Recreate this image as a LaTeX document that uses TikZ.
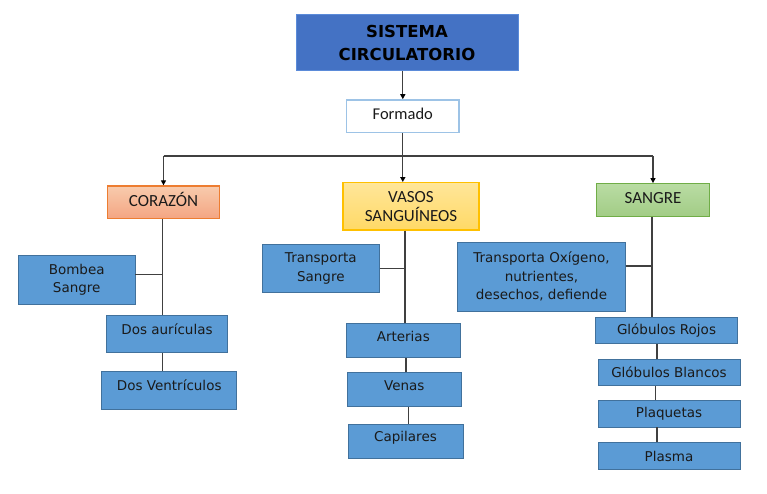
\documentclass[tikz,border=0pt]{standalone}
\usepackage{fontspec}
\setmainfont{DejaVu Sans}
\newfontfamily\calfont{Carlito}
\usetikzlibrary{arrows.meta}
\definecolor{leafblue}{HTML}{5B9BD5}
\definecolor{leafborder}{HTML}{41719C}
\definecolor{titleblue}{HTML}{4472C4}
\definecolor{titleborder}{HTML}{5B8BD9}
\definecolor{formborder}{HTML}{9DC3E6}
\definecolor{textdark}{HTML}{1A1A1A}
\definecolor{linegray}{HTML}{404040}
\definecolor{orbord}{HTML}{ED7D31}
\definecolor{ortop}{HTML}{F8CBAD}
\definecolor{orbot}{HTML}{F4A582}
\definecolor{yebord}{HTML}{FFC000}
\definecolor{yetop}{HTML}{FFE699}
\definecolor{yebot}{HTML}{FFD966}
\definecolor{grbord}{HTML}{70AD47}
\definecolor{grtop}{HTML}{B9DCA3}
\definecolor{grbot}{HTML}{A2CC86}
\newcommand{\up}[2]{\raisebox{#1}[\height][\depth]{#2}}
\begin{document}
\begin{tikzpicture}[x=1pt,y=-1pt,
  leaf/.style={draw=leafborder, fill=leafblue, line width=0.8pt, text=textdark,
    font=\fontsize{13.5}{18.5}\selectfont, align=center, inner sep=0pt},
  cat/.style={line width=1.2pt, text=textdark,
    font=\calfont\fontsize{17}{18.5}\selectfont, align=center, inner sep=0pt},
  titlebox/.style={draw=titleborder, fill=titleblue, line width=1pt, text=black,
    font=\bfseries\fontsize{16.5}{23.3}\selectfont, align=center, inner sep=0pt},
  formbox/.style={draw=formborder, fill=white, line width=1.5pt, text=textdark,
    font=\calfont\fontsize{16.5}{20}\selectfont, inner sep=0pt},
  conn/.style={draw=linegray, line width=1.3pt},
  arr/.style={conn, -{Triangle[length=5pt,width=5pt,color=black]}}
]
\useasboundingbox[fill=white] (0,0) rectangle (767,494);

% top
\node[titlebox, minimum width=222pt, minimum height=56pt] (title) at (407,43) {SISTEMA\\CIRCULATORIO};
\node[formbox, minimum width=112.5pt, minimum height=32.7pt] (formado) at (402.8,116.3) {\up{2pt}{Formado}};

% categories
\node[cat, draw=orbord, top color=ortop, bottom color=orbot, minimum width=112pt, minimum height=32.7pt] (corazon) at (163.5,202.3) {\up{3pt}{CORAZÓN}};
\node[cat, draw=yebord, top color=yetop, bottom color=yebot, minimum width=136pt, minimum height=47.3pt] (vasos) at (411,206.3) {VASOS\\SANGUÍNEOS};
\node[cat, draw=grbord, top color=grtop, bottom color=grbot, minimum width=112.7pt, minimum height=32.6pt] (sangre) at (653,200) {\up{2pt}{SANGRE}};

% left branch
\node[leaf, minimum width=116.7pt, minimum height=48.6pt] (bombea) at (76.7,280) {Bombea\\Sangre};
\node[leaf, minimum width=120.6pt, minimum height=37pt] (auriculas) at (167,334.2) {\up{5pt}{Dos aurículas}};
\node[leaf, minimum width=135pt, minimum height=37.7pt] (ventriculos) at (169.2,390.2) {\up{5.5pt}{Dos Ventrículos}};

% middle branch
\node[leaf, minimum width=117pt, minimum height=48.7pt] (tsangre) at (320.8,268.3) {Transporta\\Sangre};
\node[leaf, minimum width=114.7pt, minimum height=34.7pt] (arterias) at (403.3,340.3) {\up{3.6pt}{Arterias}};
\node[leaf, minimum width=114.7pt, minimum height=34pt] (venas) at (404.3,389.7) {\up{4pt}{Venas}};
\node[leaf, minimum width=115pt, minimum height=34.7pt] (capilares) at (405.5,441.3) {\up{3.6pt}{Capilares}};

% right branch
\node[leaf, minimum width=167.6pt, minimum height=69.3pt] (toxig) at (541.5,276.7) {Transporta Oxígeno,\\nutrientes,\\desechos, defiende};
\node[leaf, minimum width=141.6pt, minimum height=26pt] (rojos) at (666.5,330.3) {Glóbulos Rojos};
\node[leaf, minimum width=142pt, minimum height=26pt] (blancos) at (669,372.7) {\up{1pt}{Glóbulos Blancos}};
\node[leaf, minimum width=142pt, minimum height=26.3pt] (plaquetas) at (669,413.8) {Plaquetas};
\node[leaf, minimum width=142pt, minimum height=26.6pt] (plasma) at (669,456) {Plasma};

% connectors: top
\draw[arr] (title.south -| formado.north) -- (formado.north);
\coordinate (j) at (formado.south |- 0,156);
\draw[conn] (formado.south) -- (j);
\draw[conn] (corazon.north |- j) -- (sangre.north |- j);
\draw[arr] (corazon.north |- j) -- (corazon.north);
\draw[arr] (j) -- (j |- vasos.north);
\draw[arr] (sangre.north |- j) -- (sangre.north);

% left
\coordinate (cz) at ([xshift=-1.2pt]corazon.south);
\draw[conn] (cz) -- (cz |- auriculas.north);
\draw[conn] ([yshift=5.3pt]bombea.east) -- ([yshift=5.3pt]bombea.east -| cz);
\coordinate (au) at ([xshift=-4.7pt]auriculas.south);
\draw[conn] (au) -- (au |- ventriculos.north);

% middle
\coordinate (ar) at ([xshift=1.7pt]arterias.north);
\draw[conn] (ar |- vasos.south) -- (ar);
\draw[conn] (tsangre.east) -- (tsangre.east -| ar);
\coordinate (ve) at ([xshift=1.7pt]venas.north);
\draw[conn] (ve) -- (ve |- arterias.south);
\coordinate (ca) at ([xshift=3.2pt]capilares.north);
\draw[conn] (ca) -- (ca |- venas.south);

% right
\coordinate (sg) at ([xshift=-1pt]sangre.south);
\draw[conn] (sg) -- (sg |- rojos.north);
\coordinate (tx) at ([yshift=10.7pt]toxig.east);
\draw[conn] (tx) -- (tx -| sg);
\coordinate (gb) at ([xshift=-12pt]blancos.north);
\draw[conn] (gb) -- (gb |- rojos.south);
\coordinate (pq) at ([xshift=-13.3pt]plaquetas.north);
\draw[conn] (pq) -- (pq |- blancos.south);
\coordinate (pl) at ([xshift=-12pt]plasma.north);
\draw[conn] (pl) -- (pl |- plaquetas.south);
\end{tikzpicture}
\end{document}
